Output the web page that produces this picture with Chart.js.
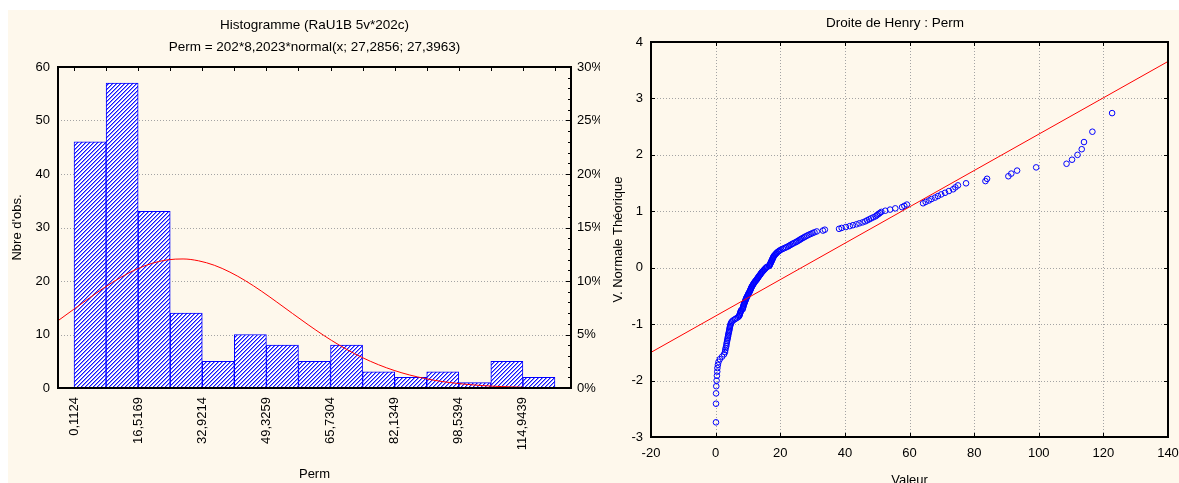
<!DOCTYPE html>
<html lang="fr">
<head>
<meta charset="utf-8">
<title>Perm : histogramme et droite de Henry</title>
<script src="https://cdn.jsdelivr.net/npm/chart.js@4.4.1/dist/chart.umd.min.js"></script>
<style>
  html, body { margin: 0; padding: 0; background: #ffffff; }
  body { width: 1179px; height: 483px; overflow: hidden; position: relative; }
  #panel { position: absolute; left: 8px; top: 10px; right: 0; bottom: 0; background: #fef8ec; }
  canvas { position: absolute; top: 0; }
  #hist { left: 0; }
  #henry { left: 600px; }
</style>
</head>
<body>
<div id="panel"></div>
<canvas id="hist" width="620" height="483"></canvas>
<canvas id="henry" width="588" height="500"></canvas>
<script>
// ---- Histogram of Perm: class limits and counts (202 observations) ----
const binEdges = [0.1124, 8.3147, 16.5169, 24.7192, 32.9214, 41.1237, 49.3259, 57.5282,
                  65.7304, 73.9327, 82.1349, 90.3372, 98.5394, 106.7417, 114.9439, 123.1462];
const binCounts = [46, 57, 33, 14, 5, 10, 8, 5, 8, 3, 2, 3, 1, 5, 2];

// Fitted normal curve 202*8,2023*normal(x; 27,2856; 27,3963), sampled values
const fitX = [-4, 0, 4, 8, 12, 16, 20, 24, 28, 32, 36, 40, 44, 48, 52, 56, 60, 64, 68, 72,
              76, 80, 84, 88, 92, 96, 100, 104, 108, 112, 115];
const fitY = [12.57, 14.69, 16.81, 18.83, 20.65, 22.17, 23.29, 23.95, 24.12, 23.77, 22.94,
              21.66, 20.03, 18.13, 16.06, 13.93, 11.83, 9.83, 8.00, 6.37, 4.97, 3.79, 2.83,
              2.07, 1.48, 1.04, 0.71, 0.48, 0.31, 0.20, 0.14];

// ---- Normal probability plot: sorted values and theoretical normal scores ----
const henryValeur = [
  0.11, 0.12, 0.14, 0.2, 0.3, 0.4, 0.5, 0.55, 0.7, 0.9,
  1.3, 2.0, 2.6, 2.9, 3.0, 3.1, 3.3, 3.35, 3.45, 3.55,
  3.65, 3.75, 3.85, 3.9, 4.0, 4.1, 4.2, 4.25, 4.35, 4.4,
  4.5, 4.6, 4.7, 4.85, 5.1, 5.5, 6.0, 6.5, 7.0, 7.3,
  7.4, 7.5, 7.6, 7.7, 7.8, 7.9, 8.35, 8.4, 8.5, 8.55,
  8.6, 8.7, 8.8, 8.9, 9.0, 9.1, 9.2, 9.3, 9.4, 9.5,
  9.6, 9.7, 9.9, 10.0, 10.1, 10.2, 10.35, 10.5, 10.6, 10.7,
  10.8, 10.9, 11.0, 11.1, 11.2, 11.35, 11.5, 11.6, 11.75, 11.9,
  12.05, 12.2, 12.4, 12.6, 12.75, 12.9, 13.05, 13.2, 13.35, 13.5,
  13.7, 13.85, 14.0, 14.15, 14.3, 14.5, 14.7, 14.9, 15.1, 15.3,
  15.5, 15.7, 16.0, 16.6, 16.7, 16.8, 16.9, 17.0, 17.1, 17.2,
  17.3, 17.4, 17.5, 17.6, 17.7, 17.8, 17.9, 18.0, 18.2, 18.4,
  18.6, 18.8, 19.0, 19.3, 19.6, 19.9, 20.3, 20.8, 21.3, 21.8,
  22.3, 22.7, 23.1, 23.5, 23.9, 24.4, 24.9, 25.3, 25.7, 26.1,
  26.5, 26.9, 27.4, 27.8, 28.3, 28.8, 29.4, 30.0, 30.6, 31.3,
  33.2, 33.8, 38.2, 39.0, 40.3, 41.5, 42.5, 43.6, 44.5, 45.5,
  46.3, 46.9, 47.5, 48.1, 48.8, 49.5, 49.9, 50.4, 50.8, 51.3,
  52.5, 54.0, 55.6, 57.7, 58.4, 59.2, 64.2, 65.0, 66.0, 66.8,
  67.9, 68.8, 69.8, 71.0, 72.2, 73.5, 74.2, 75.0, 77.5, 83.5,
  84.0, 90.6, 91.5, 93.3, 99.2, 108.6, 110.3, 112.0, 113.3, 114.0,
  116.6, 122.7
];
const henryScore = [
  -2.74, -2.41, -2.227, -2.10, -2.00, -1.914, -1.842, -1.778, -1.721, -1.668,
  -1.621, -1.576, -1.535, -1.496, -1.459, -1.424, -1.390, -1.359, -1.328, -1.299,
  -1.270, -1.243, -1.217, -1.191, -1.166, -1.142, -1.119, -1.096, -1.073, -1.052,
  -1.030, -1.010, -0.989, -0.969, -0.950, -0.930, -0.911, -0.893, -0.874, -0.856,
  -0.839, -0.821, -0.804, -0.787, -0.770, -0.753, -0.737, -0.721, -0.705, -0.689,
  -0.674, -0.658, -0.643, -0.628, -0.613, -0.598, -0.583, -0.568, -0.554, -0.539,
  -0.525, -0.511, -0.497, -0.483, -0.469, -0.455, -0.442, -0.428, -0.414, -0.401,
  -0.387, -0.374, -0.361, -0.348, -0.335, -0.321, -0.308, -0.295, -0.283, -0.270,
  -0.257, -0.244, -0.231, -0.219, -0.206, -0.193, -0.181, -0.168, -0.156, -0.143,
  -0.130, -0.118, -0.105, -0.093, -0.081, -0.068, -0.056, -0.043, -0.031, -0.019,
  -0.006, 0.006, 0.019, 0.031, 0.043, 0.056, 0.068, 0.081, 0.093, 0.105,
  0.118, 0.130, 0.143, 0.156, 0.168, 0.181, 0.193, 0.206, 0.219, 0.231,
  0.244, 0.257, 0.270, 0.283, 0.295, 0.308, 0.321, 0.335, 0.348, 0.361,
  0.374, 0.387, 0.401, 0.414, 0.428, 0.442, 0.455, 0.469, 0.483, 0.497,
  0.511, 0.525, 0.539, 0.554, 0.568, 0.583, 0.598, 0.613, 0.628, 0.643,
  0.658, 0.674, 0.689, 0.705, 0.721, 0.737, 0.753, 0.770, 0.787, 0.804,
  0.821, 0.839, 0.856, 0.874, 0.893, 0.911, 0.930, 0.950, 0.969, 0.989,
  1.010, 1.030, 1.052, 1.073, 1.096, 1.119, 1.142, 1.166, 1.191, 1.217,
  1.243, 1.270, 1.299, 1.328, 1.359, 1.390, 1.424, 1.459, 1.496, 1.535,
  1.576, 1.621, 1.668, 1.721, 1.778, 1.842, 1.914, 2.00, 2.10, 2.227,
  2.41, 2.74
];
// Reference line of the normal plot (end points)
const henryLineX = [-20, 140];
const henryLineY = [-1.50, 3.655];

// ---- shared styling ----
Chart.defaults.font.family = '"Liberation Sans", Arial, Helvetica, sans-serif';
Chart.defaults.font.size = 13;
Chart.defaults.color = '#000000';
Chart.defaults.animation = false;
Chart.defaults.events = [];

const GRID = '#a4a4a4';
const FRAME = '#000000';

function seg(ctx, x1, y1, x2, y2) {
  ctx.beginPath(); ctx.moveTo(x1, y1); ctx.lineTo(x2, y2); ctx.stroke();
}
const crisp = v => Math.round(v) + 0.5;

// diagonal "/" hatching, blue on white
function hatchPattern() {
  const n = 4;
  const c = document.createElement('canvas');
  c.width = n; c.height = n;
  const g = c.getContext('2d');
  g.fillStyle = '#ffffff';
  g.fillRect(0, 0, n, n);
  for (let y = 0; y < n; y++) {
    for (let x = 0; x < n; x++) {
      const d = (x + y) % n;
      if (d === n - 1) { g.fillStyle = '#1010ff'; g.fillRect(x, y, 1, 1); }
      else if (d === 0) { g.fillStyle = '#8c8cff'; g.fillRect(x, y, 1, 1); }
    }
  }
  return g.createPattern(c, 'repeat');
}

// grid, inner ticks and frame of the histogram
const histDecor = {
  id: 'histDecor',
  beforeDatasetsDraw(chart) {
    const { ctx, chartArea: a, scales: { y } } = chart;
    ctx.save();
    ctx.strokeStyle = GRID; ctx.lineWidth = 1; ctx.setLineDash([1, 2]);
    y.ticks.forEach(t => {
      if (t.value > y.min && t.value < y.max) {
        const py = crisp(y.getPixelForValue(t.value));
        seg(ctx, a.left, py, a.right, py);
      }
    });
    ctx.restore();
  },
  afterDatasetsDraw(chart) {
    const { ctx, chartArea: a, scales: { x, y2 } } = chart;
    ctx.save();
    ctx.strokeStyle = FRAME; ctx.lineWidth = 1;
    binEdges.forEach(v => {
      const px = crisp(x.getPixelForValue(v));
      seg(ctx, px, a.top, px, a.top + 4);
    });
    for (let p = y2.min; p <= y2.max; p += 1) {
      const py = crisp(y2.getPixelForValue(p));
      const len = p % 5 === 0 ? 5 : 3;
      seg(ctx, a.right - len, py, a.right, py);
    }
    ctx.lineWidth = 2;
    ctx.strokeRect(a.left, a.top, a.right - a.left, a.bottom - a.top);
    ctx.restore();
  }
};

// grid, inner ticks and frame of the normal plot
const henryDecor = {
  id: 'henryDecor',
  beforeDatasetsDraw(chart) {
    const { ctx, chartArea: a, scales: { x, y } } = chart;
    ctx.save();
    ctx.strokeStyle = GRID; ctx.lineWidth = 1; ctx.setLineDash([1, 2]);
    x.ticks.forEach(t => {
      if (t.value > x.min && t.value < x.max) {
        const px = crisp(x.getPixelForValue(t.value));
        seg(ctx, px, a.top, px, a.bottom);
      }
    });
    y.ticks.forEach(t => {
      if (t.value > y.min && t.value < y.max) {
        const py = crisp(y.getPixelForValue(t.value));
        seg(ctx, a.left, py, a.right, py);
      }
    });
    ctx.restore();
  },
  afterDatasetsDraw(chart) {
    const { ctx, chartArea: a, scales: { x, y } } = chart;
    ctx.save();
    ctx.strokeStyle = FRAME; ctx.lineWidth = 1;
    x.ticks.forEach(t => {
      const px = crisp(x.getPixelForValue(t.value));
      seg(ctx, px, a.top, px, a.top + 4);
      seg(ctx, px, a.bottom - 4, px, a.bottom);
    });
    y.ticks.forEach(t => {
      const py = crisp(y.getPixelForValue(t.value));
      seg(ctx, a.left, py, a.left + 4, py);
      seg(ctx, a.right - 4, py, a.right, py);
    });
    ctx.lineWidth = 2;
    ctx.strokeRect(a.left, a.top, a.right - a.left, a.bottom - a.top);
    ctx.restore();
  }
};

const plainAxis = { grid: { display: false, drawTicks: false }, border: { display: false } };

// ---- left: histogram ----
new Chart(document.getElementById('hist'), {
  type: 'bar',
  data: {
    datasets: [
      {
        type: 'line',
        label: 'normal',
        data: fitX.map((x, i) => ({ x, y: fitY[i] })),
        borderColor: '#ff0000',
        borderWidth: 1,
        pointRadius: 0,
        cubicInterpolationMode: 'monotone',
        order: 0
      },
      {
        type: 'bar',
        label: 'Perm',
        data: binCounts.map((c, i) => ({ x: (binEdges[i] + binEdges[i + 1]) / 2, y: c })),
        backgroundColor: hatchPattern(),
        borderColor: '#0000ff',
        borderWidth: 1,
        borderSkipped: false,
        categoryPercentage: 1,
        barPercentage: 1,
        order: 1
      }
    ]
  },
  options: {
    responsive: false,
    layout: { padding: { top: 0, right: 20, bottom: 0, left: 0 } },
    scales: {
      x: {
        type: 'linear', offset: false, min: -3.99, max: 127.25,
        ...plainAxis,
        grid: { display: false, drawTicks: false, offset: false },
        afterBuildTicks: s => {
          s.ticks = binEdges.filter((v, i) => i % 2 === 0 && i < binEdges.length - 1)
                            .map(v => ({ value: v }));
        },
        ticks: {
          autoSkip: false, minRotation: 90, maxRotation: 90, padding: 9,
          callback: v => v.toFixed(4).replace('.', ',')
        },
        title: { display: true, text: 'Perm', padding: { top: 0, bottom: 1 } },
        afterFit: s => { s.height = 95; }
      },
      y: {
        min: 0, max: 60,
        ...plainAxis,
        ticks: { stepSize: 10, padding: 8 },
        title: { display: true, text: "Nbre d'obs.", padding: { top: 10, bottom: 0 } },
        afterFit: s => { s.width = 58; }
      },
      y2: {
        position: 'right', min: 0, max: 30,
        ...plainAxis,
        ticks: { stepSize: 5, padding: 6, callback: v => v + '%' },
        afterFit: s => { s.width = 29; }
      }
    },
    plugins: {
      legend: { display: false },
      tooltip: { enabled: false },
      title: {
        display: true, fullSize: false,
        text: 'Histogramme (RaU1B 5v*202c)',
        font: { size: 13.5, weight: 'normal' },
        padding: { top: 17, bottom: 4 }
      },
      subtitle: {
        display: true, fullSize: false,
        text: 'Perm = 202*8,2023*normal(x; 27,2856; 27,3963)',
        color: '#000000',
        font: { size: 13.5 },
        padding: { top: 1.7, bottom: 11.9 }
      }
    }
  },
  plugins: [histDecor]
});

// ---- right: Droite de Henry ----
new Chart(document.getElementById('henry'), {
  type: 'scatter',
  data: {
    datasets: [
      {
        label: 'Perm',
        data: henryValeur.map((v, i) => ({ x: v, y: henryScore[i] })),
        pointStyle: 'circle',
        pointRadius: 2.8,
        borderColor: '#0000ff',
        backgroundColor: 'rgba(0,0,0,0)',
        borderWidth: 1,
        order: 1
      },
      {
        type: 'line',
        label: 'droite',
        data: henryLineX.map((x, i) => ({ x, y: henryLineY[i] })),
        borderColor: '#ff0000',
        borderWidth: 1,
        pointRadius: 0,
        order: 0
      }
    ]
  },
  options: {
    responsive: false,
    // left padding shifts the centred title; the y axis box is narrowed to keep the plot edge
    layout: { padding: { top: 0, right: 20, bottom: 0, left: 22 } },
    scales: {
      x: {
        type: 'linear', min: -20, max: 140,
        ...plainAxis,
        ticks: { stepSize: 20, padding: 9, callback: v => String(v) },
        title: { display: true, text: 'Valeur', padding: { top: 0, bottom: 12 } },
        afterFit: s => { s.height = 63; }
      },
      y: {
        type: 'linear', min: -3, max: 4,
        ...plainAxis,
        ticks: { stepSize: 1, padding: 8, callback: v => String(v) },
        title: { display: true, text: 'V. Normale Théorique', padding: { top: -11.8, bottom: 0 } },
        afterFit: s => { s.width = 29; }
      }
    },
    plugins: {
      legend: { display: false },
      tooltip: { enabled: false },
      title: {
        display: true,
        text: 'Droite de Henry : Perm',
        font: { size: 13.5, weight: 'normal' },
        padding: { top: 15, bottom: 10.8 }
      }
    }
  },
  plugins: [henryDecor]
});
</script>
</body>
</html>
